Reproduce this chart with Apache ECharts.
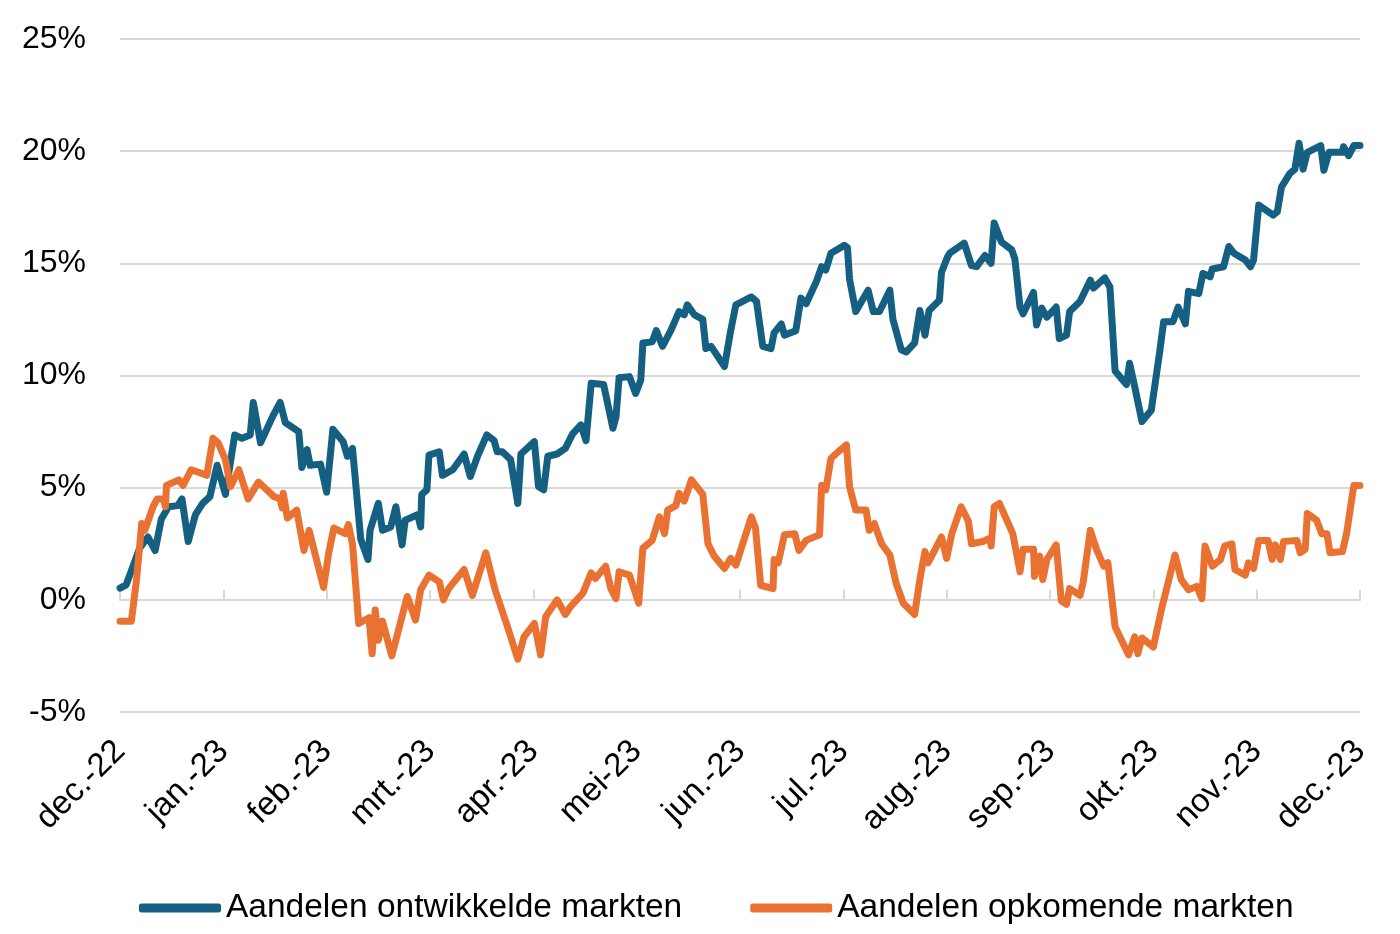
<!DOCTYPE html>
<html>
<head>
<meta charset="utf-8">
<script src="https://cdn.jsdelivr.net/npm/echarts@6/dist/echarts.min.js"></script>
<style>
  html, body { margin: 0; padding: 0; background: #fff; }
  #chart { width: 1400px; height: 934px; }
</style>
</head>
<body>
<div id="chart"></div>
<script>
// month tick labels (x position = months since dec.-22)
const monthLabels = ['dec.-22', 'jan.-23', 'feb.-23', 'mrt.-23', 'apr.-23', 'mei-23', 'jun.-23',
  'jul.-23', 'aug.-23', 'sep.-23', 'okt.-23', 'nov.-23', 'dec.-23'];

const seriesNames = ['Aandelen ontwikkelde markten', 'Aandelen opkomende markten'];

// developed markets: x in months, y in %
const devX = [0.00,0.06,0.15,0.19,0.27,0.34,0.40,0.47,0.56,0.60,0.66,0.73,0.80,0.87,0.94,1.02,1.11,1.18,1.26,1.29,
  1.36,1.48,1.55,1.60,1.73,1.76,1.81,1.84,1.94,2.00,2.06,2.16,2.20,2.25,2.33,2.40,2.42,2.50,2.54,2.62,
  2.67,2.73,2.76,2.88,2.91,2.92,2.97,2.99,3.09,3.12,3.22,3.33,3.39,3.46,3.55,3.62,3.65,3.70,3.78,3.85,
  3.88,4.01,4.05,4.10,4.14,4.23,4.31,4.38,4.46,4.51,4.56,4.68,4.77,4.80,4.83,4.93,4.99,5.04,5.06,5.15,
  5.19,5.25,5.33,5.41,5.46,5.49,5.56,5.64,5.67,5.72,5.85,5.91,5.96,6.11,6.16,6.22,6.30,6.33,6.40,6.43,
  6.54,6.59,6.64,6.74,6.79,6.83,6.88,7.01,7.04,7.06,7.12,7.24,7.29,7.35,7.45,7.48,7.56,7.61,7.69,7.74,
  7.79,7.83,7.93,7.95,8.01,8.03,8.17,8.24,8.29,8.37,8.43,8.46,8.53,8.63,8.66,8.71,8.74,8.84,8.87,8.92,
  8.97,9.06,9.09,9.16,9.19,9.29,9.39,9.42,9.53,9.58,9.63,9.74,9.77,9.82,9.89,9.98,10.06,10.10,10.19,10.24,
  10.31,10.34,10.44,10.48,10.55,10.57,10.68,10.73,10.78,10.89,10.94,10.97,11.02,11.16,11.20,11.24,11.32,11.37,11.41,11.45,
  11.49,11.62,11.65,11.70,11.83,11.84,11.89,11.94,12.00];
const devY = [0.52,0.67,1.8,2.3,2.8,2.2,3.6,4.15,4.2,4.5,2.6,3.8,4.3,4.6,6.0,4.7,7.35,7.2,7.35,8.8,
  7.0,8.2,8.8,7.9,7.5,5.9,6.7,6.0,6.05,4.8,7.6,7.05,6.4,6.75,2.7,1.8,3.1,4.3,3.1,3.25,
  4.15,2.45,3.55,3.8,3.25,4.7,4.9,6.45,6.6,5.55,5.8,6.5,5.5,6.4,7.35,7.1,6.6,6.6,6.25,4.3,
  6.5,7.05,5.05,4.9,6.4,6.5,6.75,7.4,7.8,7.1,9.65,9.6,7.65,8.15,9.9,9.95,9.2,9.8,11.45,11.5,
  12.0,11.3,12.0,12.85,12.7,13.15,12.7,12.5,11.2,11.3,10.4,12.0,13.15,13.5,13.3,11.3,11.2,11.9,12.3,11.8,
  12.0,13.45,13.2,14.2,14.85,14.7,15.45,15.8,15.7,14.3,12.85,13.8,12.85,12.85,13.8,12.5,11.15,11.05,11.45,12.9,
  11.8,12.9,13.35,14.6,15.3,15.45,15.9,14.9,14.85,15.35,15.0,16.8,15.95,15.6,15.2,13.05,12.75,13.7,12.25,13.0,
  12.6,13.05,11.65,11.8,12.85,13.3,14.25,13.9,14.35,13.95,10.2,9.6,10.55,9.5,7.95,8.45,11.0,12.4,12.4,13.05,
  12.3,13.75,13.65,14.55,14.4,14.75,14.85,15.75,15.45,15.15,14.85,15.15,17.6,17.15,17.3,18.4,19.0,19.2,20.35,19.2,
  19.95,20.25,19.15,19.95,19.95,20.2,19.8,20.25,20.25];

// emerging markets: x in months, y in %
const emgX = [0.00,0.11,0.16,0.21,0.24,0.32,0.36,0.42,0.44,0.45,0.57,0.61,0.69,0.84,0.90,0.95,1.02,1.07,1.15,1.24,
  1.34,1.49,1.55,1.57,1.58,1.62,1.71,1.78,1.83,1.97,2.02,2.07,2.18,2.21,2.25,2.31,2.41,2.44,2.47,2.50,
  2.54,2.63,2.78,2.86,2.91,2.99,3.09,3.13,3.18,3.33,3.41,3.54,3.63,3.75,3.85,3.91,4.01,4.07,4.12,4.23,
  4.31,4.36,4.48,4.56,4.60,4.70,4.75,4.80,4.83,4.93,5.02,5.06,5.15,5.22,5.27,5.30,5.38,5.41,5.46,5.53,
  5.64,5.69,5.75,5.85,5.91,5.96,6.11,6.15,6.20,6.32,6.33,6.37,6.43,6.53,6.57,6.64,6.77,6.79,6.83,6.88,
  6.95,7.03,7.06,7.12,7.22,7.25,7.30,7.37,7.45,7.51,7.58,7.69,7.74,7.79,7.82,7.95,8.00,8.05,8.14,8.21,
  8.24,8.35,8.42,8.43,8.46,8.51,8.64,8.71,8.74,8.84,8.85,8.90,8.93,8.97,9.06,9.11,9.16,9.19,9.29,9.32,
  9.39,9.45,9.52,9.56,9.63,9.76,9.82,9.85,9.89,10.00,10.08,10.21,10.27,10.34,10.42,10.47,10.50,10.57,10.65,10.69,
  10.76,10.79,10.89,10.92,10.97,11.02,11.11,11.15,11.18,11.23,11.26,11.39,11.42,11.47,11.49,11.58,11.63,11.68,11.71,11.83,
  11.87,11.94,12.00];
const emgY = [-0.95,-0.95,0.9,3.4,3.1,4.15,4.5,4.5,4.15,5.1,5.35,5.1,5.8,5.55,7.2,7.0,6.25,5.05,5.8,4.5,
  5.25,4.6,4.5,4.1,4.75,3.65,4.0,2.2,3.1,0.55,2.1,3.2,2.95,3.35,2.5,-1.05,-0.8,-2.4,-0.45,-1.8,
  -0.95,-2.5,0.15,-0.9,0.45,1.1,0.8,0.0,0.5,1.35,0.2,2.1,0.45,-1.2,-2.65,-1.65,-1.05,-2.45,-0.75,0.0,
  -0.65,-0.3,0.3,1.2,0.95,1.5,0.5,0.05,1.25,1.1,-0.15,2.3,2.65,3.7,2.95,4.0,4.2,4.75,4.4,5.35,
  4.7,2.5,1.95,1.4,1.85,1.55,3.7,3.2,0.65,0.5,1.8,1.65,2.9,2.95,2.2,2.65,2.9,5.1,4.9,6.3,
  6.6,6.9,5.05,4.0,4.0,3.1,3.4,2.5,2.0,0.75,-0.15,-0.65,0.9,2.15,1.65,2.8,1.85,2.95,4.15,3.5,
  2.5,2.6,2.75,2.4,4.15,4.3,2.95,1.25,2.25,2.25,1.05,1.95,0.9,1.8,2.45,-0.05,-0.2,0.5,0.2,0.75,
  3.1,2.25,1.5,1.65,-1.2,-2.45,-1.65,-2.4,-1.7,-2.1,-0.4,2.0,0.9,0.45,0.6,0.05,2.4,1.5,1.8,2.4,
  2.5,1.35,1.1,1.65,1.4,2.65,2.65,1.8,2.45,1.8,2.6,2.65,2.1,2.25,3.85,3.55,2.95,2.95,2.1,2.15,
  2.95,5.1,5.1];

const pair = (xs, ys) => xs.map((x, i) => [x, ys[i]]);

const chart = echarts.init(document.getElementById('chart'));
const gridColor = '#d9d9d9';
const font = "'Liberation Sans', Arial, sans-serif";

const lineSeries = (name, xs, ys, color) => ({
  name,
  type: 'line',
  xAxisIndex: 0,
  showSymbol: false,
  symbol: 'none',
  animation: false,
  lineStyle: { width: 7, color, cap: 'round', join: 'round' },
  itemStyle: { color },
  data: pair(xs, ys),
});

const option = {
  backgroundColor: '#fff',
  animation: false,
  grid: { left: 120, right: 40, top: 39, bottom: 222 },
  legend: {
    left: 134,
    top: 886,
    itemWidth: 82,
    itemHeight: 9,
    itemGap: 68,
    icon: 'roundRect',
    textStyle: { fontFamily: font, fontSize: 33.5, color: '#000' },
    data: seriesNames,
  },
  xAxis: [
    {
      type: 'value',
      min: 0,
      max: 12,
      interval: 1,
      axisLine: { show: false, onZero: false },
      axisTick: { show: false },
      splitLine: { show: false },
      axisLabel: {
        rotate: 45,
        margin: 34,
        fontFamily: font,
        fontSize: 33,
        color: '#000',
        formatter: (v) => monthLabels[Math.round(v)] || '',
      },
    },
    {
      type: 'value',
      min: 0,
      max: 12,
      interval: 1,
      axisLine: { show: true, onZero: true, lineStyle: { color: gridColor, width: 2 } },
      axisTick: { show: true, length: 10, lineStyle: { color: gridColor, width: 2 } },
      axisLabel: { show: false },
      splitLine: { show: false },
    },
  ],
  yAxis: {
    type: 'value',
    min: -5,
    max: 25,
    interval: 5,
    axisLine: { show: false },
    axisTick: { show: false },
    splitLine: { lineStyle: { color: gridColor, width: 2 } },
    axisLabel: {
      margin: 34,
      fontFamily: font,
      fontSize: 32,
      color: '#000',
      formatter: (v) => v + '%',
    },
  },
  series: [
    lineSeries(seriesNames[0], devX, devY, '#156082'),
    lineSeries(seriesNames[1], emgX, emgY, '#E97132'),
  ],
};

chart.setOption(option);
</script>
</body>
</html>
